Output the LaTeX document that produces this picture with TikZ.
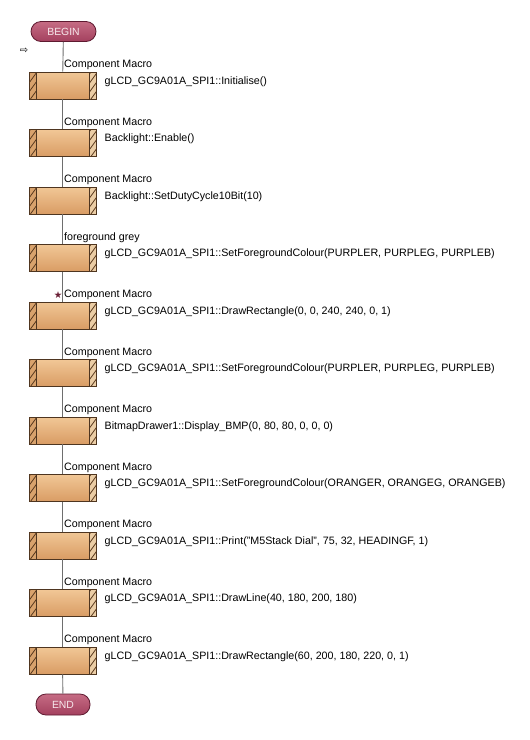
\documentclass[tikz,border=0pt]{standalone}
\usepackage{fontspec}
\setmainfont{Liberation Sans}
\newfontfamily\symfont{DejaVu Sans}
\usetikzlibrary{positioning}

\definecolor{linegrey}{HTML}{6E6E6E}
\definecolor{boxedge}{HTML}{4E3520}
\definecolor{boxdark}{HTML}{D99C64}
\definecolor{boxlight}{HTML}{F1C796}
\definecolor{bandleft}{HTML}{D8A26C}
\definecolor{bandright}{HTML}{EBCDA5}
\definecolor{hatchbrown}{HTML}{5A3A1E}
\definecolor{pillfill}{HTML}{A3405E}
\definecolor{pilltop}{HTML}{C66C84}
\definecolor{pilledge}{HTML}{5E1A30}
\definecolor{pilltext}{HTML}{F7E8EC}
\definecolor{starred}{HTML}{6A1F36}

\tikzset{
  flowline/.style={draw=linegrey, line width=0.9pt},
  terminal/.style={draw=pilledge, line width=0.8pt, top color=pilltop, bottom color=pillfill,
    rounded corners=10pt, minimum width=65pt, minimum height=20pt, inner sep=0pt,
    text=pilltext, font=\fontsize{10.4}{12}\selectfont},
  macrobox/.style={draw=boxedge, line width=0.7pt, top color=boxlight, bottom color=boxdark,
    minimum width=67pt, minimum height=27pt, inner sep=0pt},
  band/.style={draw=boxedge, line width=0.6pt},
  hatch/.style={draw=hatchbrown, line width=0.8pt},
  boxlabel/.style={anchor=west, inner sep=0pt, font=\fontsize{10.7}{12}\selectfont},
  calltext/.style={anchor=west, inner sep=0pt, font=\fontsize{10.7}{12}\selectfont}
}

\begin{document}
\begin{tikzpicture}[x=1pt,y=-1pt]
  \useasboundingbox[fill=white] (0,0) rectangle (530,740);

  % Terminals
  \node[terminal] (begin) at (63.5,31.5) {BEGIN};
  \node[terminal, minimum width=54pt, minimum height=21pt] (end) at (63,704.5) {END};
  \node[inner sep=0pt, font=\symfont\fontsize{10}{10}\selectfont] (entry) at (24,51) {⇨};

  % Macro boxes
  \foreach \lab/\call [count=\i] in {
      {Component Macro}/{gLCD\_GC9A01A\_SPI1::Initialise()},
      {Component Macro}/{Backlight::Enable()},
      {Component Macro}/{Backlight::SetDutyCycle10Bit(10)},
      {foreground grey}/{gLCD\_GC9A01A\_SPI1::SetForegroundColour(PURPLER, PURPLEG, PURPLEB)},
      {Component Macro}/{gLCD\_GC9A01A\_SPI1::DrawRectangle(0, 0, 240, 240, 0, 1)},
      {Component Macro}/{gLCD\_GC9A01A\_SPI1::SetForegroundColour(PURPLER, PURPLEG, PURPLEB)},
      {Component Macro}/{BitmapDrawer1::Display\_BMP(0, 80, 80, 0, 0, 0)},
      {Component Macro}/{gLCD\_GC9A01A\_SPI1::SetForegroundColour(ORANGER, ORANGEG, ORANGEB)},
      {Component Macro}/{gLCD\_GC9A01A\_SPI1::Print("M5Stack Dial", 75, 32, HEADINGF, 1)},
      {Component Macro}/{gLCD\_GC9A01A\_SPI1::DrawLine(40, 180, 200, 180)},
      {Component Macro}/{gLCD\_GC9A01A\_SPI1::DrawRectangle(60, 200, 180, 220, 0, 1)}}
  {
    \pgfmathsetmacro\top{72+(\i-1)*57.5}
    \node[macrobox] (m\i) at (62.5,\top+13.5) {};
    % hatched side bands
    \draw[band, fill=bandleft] (29,\top) rectangle (36,\top+27);
    \draw[band, fill=bandright] (89.5,\top) rectangle (96,\top+27);
    \begin{scope}
      \clip (29,\top) rectangle (36,\top+27);
      \foreach \k in {0,...,3}
        \draw[hatch] (29,\top+29-\k*9) -- ++(8,-11);
    \end{scope}
    \begin{scope}
      \clip (89.5,\top) rectangle (96,\top+27);
      \foreach \k in {0,...,3}
        \draw[hatch] (89.5,\top+29-\k*9) -- ++(8,-11);
    \end{scope}
    \node[boxlabel] (l\i) at (64,\top-7) {\lab};
    \node[calltext] (c\i) at (104.5,\top+9.5) {\call};
  }

  % Breakpoint mark
  \node[inner sep=0pt, text=starred, font=\symfont\fontsize{9.5}{9.5}\selectfont, left=1.5pt of l5] (mark) {★};

  % Flow line
  \draw[flowline] (begin) -- (m1);
  \foreach \i [evaluate=\i as \j using int(\i+1)] in {1,...,10}
    \draw[flowline] (m\i) -- (m\j);
  \draw[flowline] (m11) -- (end);
\end{tikzpicture}
\end{document}
